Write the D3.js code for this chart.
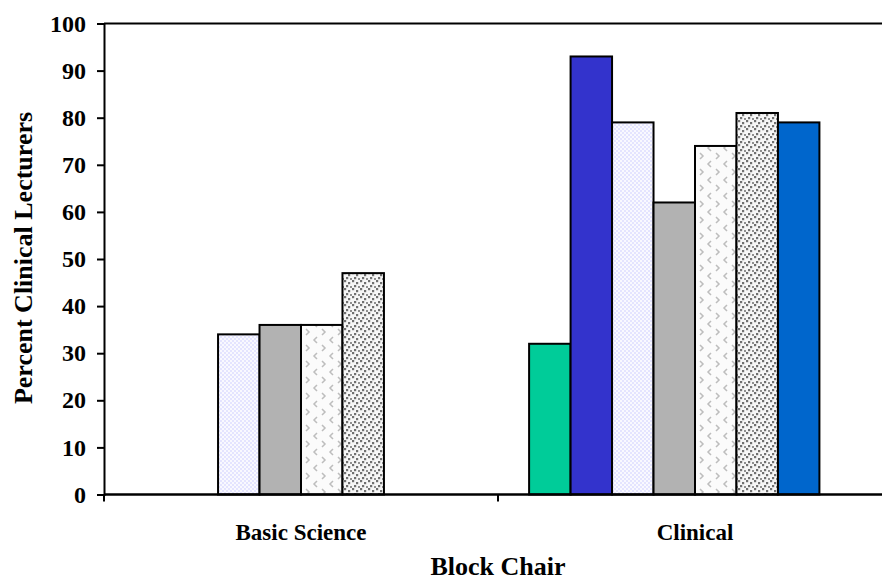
<!DOCTYPE html>
<html><head><meta charset="utf-8">
<script src="https://cdn.jsdelivr.net/npm/d3@7"></script>
<style>body{margin:0;background:#fff}svg{display:block}</style>
</head><body><div id="chart"></div>
<script>
const categories = ["Basic Science", "Clinical"];
const seriesNames = ["S1", "S2", "S3", "S4", "S5", "S6", "S7", "S8"];
const basicScience = [null, null, 34, 36, 36, 47, null, null];
const clinical = [32, 93, 79, 62, 74, 81, 79, null];
const yTicks = [0, 10, 20, 30, 40, 50, 60, 70, 80, 90, 100];
const seriesFills = ["#00CC99", "#3333CC", "url(#pLav)", "#B2B2B2", "url(#pChev)", "url(#pDots)", "#0066CC", "#ffffff"];

(function () {
const W = 882, H = 582;
const FONT = "Liberation Serif, Times New Roman, serif";
const svg = d3.select("#chart").append("svg").attr("width", W).attr("height", H);
const defs = svg.append("defs");

// lavender dotted pattern
const p1 = defs.append("pattern").attr("id", "pLav").attr("patternUnits", "userSpaceOnUse").attr("width", 4).attr("height", 4);
p1.append("rect").attr("width", 4).attr("height", 4).attr("fill", "#f9f9ff");
p1.append("rect").attr("x", 0).attr("y", 0).attr("width", 2).attr("height", 2).attr("fill", "#e4e4ff");
p1.append("rect").attr("x", 2).attr("y", 2).attr("width", 2).attr("height", 2).attr("fill", "#e4e4ff");

// chevron pattern
const p2 = defs.append("pattern").attr("id", "pChev").attr("patternUnits", "userSpaceOnUse").attr("width", 16).attr("height", 16);
p2.append("rect").attr("width", 16).attr("height", 16).attr("fill", "#fbfbfb");
p2.append("path").attr("d", "M5,1 L2,4 L5,7").attr("fill", "none").attr("stroke", "#bdbdbd").attr("stroke-width", 1.5);
p2.append("path").attr("d", "M10,9 L13,12 L10,15").attr("fill", "none").attr("stroke", "#bdbdbd").attr("stroke-width", 1.5);

// dark dots pattern
const p3 = defs.append("pattern").attr("id", "pDots").attr("patternUnits", "userSpaceOnUse").attr("width", 8).attr("height", 8);
p3.append("rect").attr("width", 8).attr("height", 8).attr("fill", "#f6f6f6");
p3.append("rect").attr("x", 0).attr("y", 0).attr("width", 2.2).attr("height", 2.2).attr("fill", "#707070");
p3.append("rect").attr("x", 4).attr("y", 2).attr("width", 2.2).attr("height", 2.2).attr("fill", "#707070");
p3.append("rect").attr("x", 2).attr("y", 5).attr("width", 2.2).attr("height", 2.2).attr("fill", "#707070");
p3.append("rect").attr("x", 6).attr("y", 6).attr("width", 2).attr("height", 2).attr("fill", "#909090");

const mLeft = 104, mRight = 892, mTop = 23.5, mBottom = 494.5;
const x0 = d3.scaleBand().domain(categories).range([mLeft, mRight]).padding(0);
const x1 = d3.scaleBand().domain(d3.range(seriesNames.length)).range([0, x0.bandwidth()]).paddingInner(0).paddingOuter(0.75);
const y = d3.scaleLinear().domain([0, 100]).range([mBottom, mTop]);

const dataByCat = {"Basic Science": basicScience, "Clinical": clinical};

// top border
svg.append("line").attr("x1", mLeft).attr("x2", mRight).attr("y1", y(100)).attr("y2", y(100)).attr("stroke", "#000").attr("stroke-width", 2);

// bars
categories.forEach(cat => {
  const g = svg.append("g").attr("transform", `translate(${x0(cat)},0)`);
  g.selectAll("rect").data(dataByCat[cat].map((v, i) => ({v, i})).filter(d => d.v != null))
    .join("rect")
    .attr("x", d => x1(d.i))
    .attr("width", x1.bandwidth())
    .attr("y", d => y(d.v))
    .attr("height", d => y(0) - y(d.v))
    .attr("fill", d => seriesFills[d.i])
    .attr("stroke", "#000").attr("stroke-width", 2);
});

// y axis
const yAxis = d3.axisLeft(y).tickValues(yTicks).tickSize(7).tickPadding(11);
const ya = svg.append("g").attr("transform", `translate(${mLeft},0)`).call(yAxis);
ya.select(".domain").attr("stroke-width", 2);
ya.selectAll(".tick line").attr("stroke-width", 2);
ya.selectAll("text").attr("font-family", FONT).attr("font-weight", "bold").attr("font-size", 24).attr("fill", "#000");

// x axis
const xa = svg.append("g").attr("transform", `translate(0,${mBottom})`);
xa.append("line").attr("x1", mLeft).attr("x2", mRight).attr("stroke", "#000").attr("stroke-width", 2.5);
const bounds = categories.map(c => x0(c)).concat([x0(categories[categories.length - 1]) + x0.bandwidth()]);
xa.selectAll(".tk").data(bounds).join("line").attr("class", "tk")
  .attr("x1", d => d).attr("x2", d => d).attr("y1", 0).attr("y2", 7).attr("stroke", "#000").attr("stroke-width", 2);
xa.selectAll(".cl").data(categories).join("text").attr("class", "cl")
  .attr("x", d => x0(d) + x0.bandwidth() / 2).attr("y", 45)
  .attr("text-anchor", "middle")
  .attr("font-family", FONT).attr("font-weight", "bold").attr("font-size", 23)
  .text(d => d);

// axis titles
svg.append("text").attr("x", 498).attr("y", 575).attr("text-anchor", "middle")
  .attr("font-family", FONT).attr("font-weight", "bold").attr("font-size", 26)
  .text("Block Chair");
svg.append("text").attr("transform", `translate(32,258) rotate(-90)`).attr("text-anchor", "middle")
  .attr("font-family", FONT).attr("font-weight", "bold").attr("font-size", 26)
  .text("Percent Clinical Lecturers");
})();
</script></body></html>
